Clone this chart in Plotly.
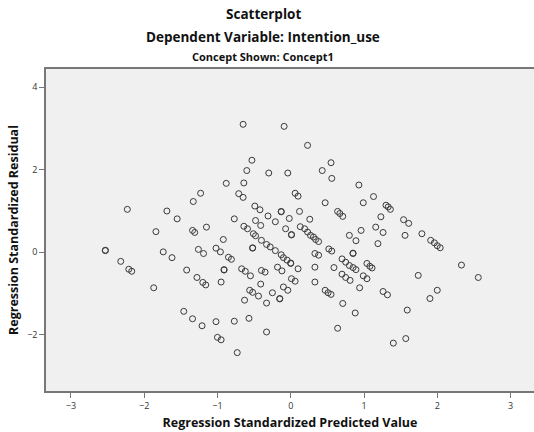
import plotly.graph_objects as go

# Regression diagnostics: standardized predicted value vs standardized residual
pred = [
    -1.23, -1.33, -2.23, -1.69, -1.55, -1.84, -1.15, -1.34, -1.31, -2.53,
    -2.53, -1.74, -1.62, -1.26, -1.19, -2.32, -2.21, -2.17, -1.42, -1.28,
    -1.20, -1.16, -1.87, -1.46, -1.34, -1.21,
    -0.65, -0.09, 0.23, -0.53, -0.60, -0.30, -0.04, 0.43, -0.88, -0.64,
    -0.71, -0.65, 0.06, 0.10, -0.49, -0.42, -0.13, -0.13, -0.31, -0.02,
    0.12, 0.26, -0.77, -0.48, -0.41, -0.21, -0.64, -0.59, -0.51, -0.48,
    -0.07, 0.01, 0.01, 0.13, 0.19, 0.23, 0.27, 0.31, 0.34, 0.38,
    -0.92, -1.02, -0.96, -0.52, -0.52, -0.40, -0.33, -0.28, -0.21, -0.85,
    -0.81, -0.13, -0.10, -0.05, 0.00, 0.00, 0.10, 0.33, 0.38, -0.18,
    -0.12, -0.91, -0.91, -0.67, -0.62, -0.55, -0.40, -0.35, 0.33, 0.33,
    0.01, 0.06, -0.95, -0.41, -0.56, -0.52, -0.44, -0.10, -0.04, -0.25,
    -0.63, -0.33, -0.15, -0.15, -1.02, -0.77, -0.57, -1.00, -0.95, -0.33,
    -0.73,
    0.55, 0.56, 0.93, 1.13, 0.47, 0.99, 0.64, 0.67, 0.71, 1.30,
    1.33, 1.36, 1.23, 1.54, 1.61, 1.16, 0.96, 1.26, 0.80, 0.89,
    1.56, 1.79, 1.19, 0.52, 0.56, 0.85, 0.85, 0.70, 0.75, 0.80,
    0.85, 0.89, 1.04, 1.08, 1.11, 0.59, 0.70, 0.75, 0.81, 0.99,
    1.04, 0.94, 0.47, 0.51, 0.55, 1.26, 1.32, 1.74, 1.90, 0.71,
    0.88, 1.59, 0.64, 1.40, 1.57,
    1.91, 1.96, 2.00, 2.04, 2.33, 2.56, 2.00,
]
resid = [
    1.43, 1.23, 1.04, 1.00, 0.81, 0.50, 0.61, 0.53, 0.48, 0.05,
    0.04, 0.01, -0.13, 0.07, -0.03, -0.22, -0.41, -0.46, -0.43, -0.61,
    -0.73, -0.79, -0.86, -1.43, -1.61, -1.78,
    3.10, 3.05, 2.59, 2.23, 1.98, 1.92, 1.92, 1.98, 1.67, 1.68,
    1.42, 1.33, 1.43, 1.36, 1.12, 1.03, 0.99, 0.98, 0.88, 0.82,
    0.99, 0.80, 0.81, 0.77, 0.65, 0.74, 0.63, 0.57, 0.45, 0.40,
    0.57, 0.43, 0.42, 0.62, 0.57, 0.49, 0.41, 0.37, 0.31, 0.26,
    0.31, 0.10, 0.01, 0.11, 0.10, 0.29, 0.19, 0.13, 0.04, -0.12,
    -0.17, -0.06, -0.13, -0.19, -0.26, -0.27, -0.40, -0.03, -0.07, -0.36,
    -0.45, -0.42, -0.43, -0.40, -0.46, -0.57, -0.44, -0.48, -0.36, -0.72,
    -0.64, -0.70, -0.72, -0.77, -0.92, -0.97, -1.06, -0.84, -0.92, -0.98,
    -1.16, -1.23, -1.12, -1.13, -1.68, -1.67, -1.60, -2.06, -2.12, -1.93,
    -2.43,
    2.17, 1.79, 1.63, 1.35, 1.20, 1.20, 0.99, 0.94, 0.87, 1.14,
    1.10, 1.04, 0.86, 0.79, 0.70, 0.61, 0.53, 0.48, 0.41, 0.28,
    0.41, 0.45, 0.21, 0.08, 0.03, -0.02, -0.03, -0.16, -0.24, -0.32,
    -0.37, -0.42, -0.27, -0.34, -0.38, -0.37, -0.53, -0.61, -0.68, -0.57,
    -0.64, -0.86, -0.92, -0.98, -1.02, -0.95, -1.03, -0.56, -1.12, -1.24,
    -1.47, -1.40, -1.84, -2.20, -2.09,
    0.29, 0.23, 0.16, 0.11, -0.31, -0.61, -0.92,
]

x_ticks = [-3, -2, -1, 0, 1, 2, 3]
y_ticks = [-2, 0, 2, 4]

headings = [
    ("<b>Scatterplot</b>", 13.5, 14),
    ("<b>Dependent Variable: Intention_use</b>", 13.5, 37),
    ("<b>Concept Shown: Concept1</b>", 11, 57),
]

FONT = "Open Sans"
PAGE_W, PAGE_H = 534, 432
M_L, M_R, M_T, M_B = 46, 0, 69, 41
plot_w = PAGE_W - M_L - M_R
plot_h = PAGE_H - M_T - M_B

fig = go.Figure(
    go.Scatter(
        x=pred,
        y=resid,
        mode="markers",
        marker=dict(symbol="circle-open", size=6, color="#3a3a3a",
                    line=dict(width=1, color="#3a3a3a")),
        hoverinfo="x+y",
    )
)

# heading lines placed by page pixel position, centred at x = 263
annotations = []
for text, size, py in headings:
    annotations.append(dict(
        text=text, showarrow=False,
        xref="paper", yref="paper",
        x=(263 - M_L) / plot_w,
        y=(PAGE_H - py - M_B) / plot_h,
        xanchor="center", yanchor="middle",
        font=dict(size=size, family=FONT, color="#111"),
    ))

fig.update_layout(
    width=PAGE_W,
    height=PAGE_H,
    margin=dict(l=M_L, r=M_R, t=M_T, b=M_B),
    paper_bgcolor="white",
    plot_bgcolor="#f0f0f0",
    showlegend=False,
    font=dict(family=FONT, color="#222"),
    annotations=annotations,
)

fig.update_xaxes(
    range=[-3.34, 3.32],
    tickvals=x_ticks,
    ticks="outside",
    ticklen=5,
    tickwidth=1,
    tickcolor="#777",
    tickfont=dict(size=9, color="#333"),
    showgrid=False,
    zeroline=False,
    showline=True,
    linecolor="#777",
    linewidth=1.5,
    mirror=True,
    title=dict(text="<b>Regression Standardized Predicted Value</b>",
               font=dict(size=12.5, color="#111"), standoff=8),
)
fig.update_yaxes(
    range=[-3.36, 4.44],
    tickvals=y_ticks,
    ticks="outside",
    ticklen=5,
    tickwidth=1,
    tickcolor="#777",
    tickfont=dict(size=9, color="#333"),
    showgrid=False,
    zeroline=False,
    showline=True,
    linecolor="#777",
    linewidth=1.5,
    title=dict(text="<b>Regression Standardized Residual</b>",
               font=dict(size=12.5, color="#111"), standoff=6),
)

fig.write_html("out.html")
